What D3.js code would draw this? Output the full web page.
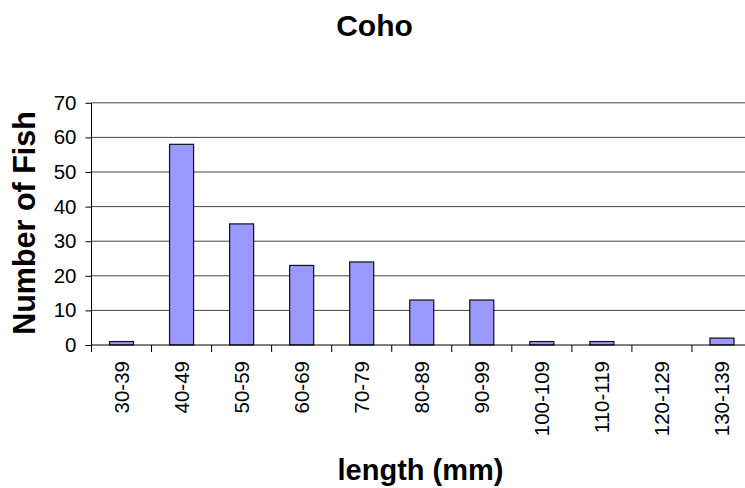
<!DOCTYPE html>
<html>
<head>
<meta charset="utf-8">
<script src="https://cdn.jsdelivr.net/npm/d3@7"></script>
<style>
  html, body { margin: 0; padding: 0; background: #fff; }
  svg { display: block; font-family: "Liberation Sans", Arial, sans-serif; }
</style>
</head>
<body>
<svg id="chart" width="745" height="488"></svg>
<script>
const categories = ["30-39","40-49","50-59","60-69","70-79","80-89","90-99","100-109","110-119","120-129","130-139"];
const counts = [1, 58, 35, 23, 24, 13, 13, 1, 1, 0, 2];
const yTicks = [0, 10, 20, 30, 40, 50, 60, 70];
const titleText = "Coho";
const xTitle = "length (mm)";
const yTitle = "Number of Fish";

const svg = d3.select("#chart");
const plotLeft = 91.5, plotRight = 752, plotTop = 102.8, plotBottom = 345;

const x = d3.scaleBand().domain(categories).range([plotLeft, plotRight])
  .paddingInner(0.6).paddingOuter(0.3);
const y = d3.scaleLinear().domain([0, 70]).range([plotBottom, plotTop]);
const step = x.step();

// gridlines
svg.append("g").selectAll("line").data(yTicks.filter(d => d > 0)).join("line")
  .attr("x1", plotLeft).attr("x2", plotRight)
  .attr("y1", d => y(d)).attr("y2", d => y(d))
  .attr("stroke", "#444").attr("stroke-width", 1);

// bars
svg.append("g").selectAll("rect").data(categories).join("rect")
  .attr("x", d => x(d))
  .attr("width", x.bandwidth())
  .attr("y", (d, i) => y(counts[i]))
  .attr("height", (d, i) => plotBottom - y(counts[i]))
  .attr("fill", "#9999FF")
  .attr("stroke", "#111")
  .attr("stroke-width", 1.2);

// y axis
const yAxis = svg.append("g").attr("transform", `translate(${plotLeft},0)`)
  .call(d3.axisLeft(y).tickValues(yTicks).tickSize(6).tickPadding(9).tickFormat(d3.format("d")));
yAxis.select(".domain").attr("stroke", "#000").attr("d", `M0,${plotBottom}V${plotTop}`);
yAxis.selectAll(".tick line").attr("stroke", "#000");
yAxis.selectAll("text").attr("font-size", 20.5).attr("fill", "#000")
  .attr("font-family", "Liberation Sans, Arial, sans-serif");

// x axis baseline
svg.append("line").attr("x1", plotLeft).attr("x2", plotRight)
  .attr("y1", plotBottom).attr("y2", plotBottom).attr("stroke", "#000");

// x boundary ticks
const bounds = categories.map(d => x(d) - step * 0.3).concat([x(categories[categories.length-1]) + x.bandwidth() + step * 0.3]);
svg.append("g").selectAll("line").data(bounds).join("line")
  .attr("x1", d => d).attr("x2", d => d)
  .attr("y1", plotBottom).attr("y2", plotBottom + 7).attr("stroke", "#000");

// x labels rotated
svg.append("g").selectAll("text").data(categories).join("text")
  .attr("transform", d => `translate(${x(d) + x.bandwidth()/2 + 7.5},${plotBottom + 16}) rotate(-90)`)
  .attr("text-anchor", "end")
  .attr("font-size", 20.5)
  .attr("fill", "#000")
  .text(d => d);

// titles
svg.append("text").attr("x", 374.5).attr("y", 36).attr("text-anchor", "middle")
  .attr("font-size", 30).attr("font-weight", "bold").text(titleText);
svg.append("text").attr("x", 420.5).attr("y", 480).attr("text-anchor", "middle")
  .attr("font-size", 29).attr("font-weight", "bold").text(xTitle);
svg.append("text").attr("transform", "translate(35,223) rotate(-90)")
  .attr("text-anchor", "middle")
  .attr("font-size", 30.5).attr("font-weight", "bold").text(yTitle);
</script>
</body>
</html>
